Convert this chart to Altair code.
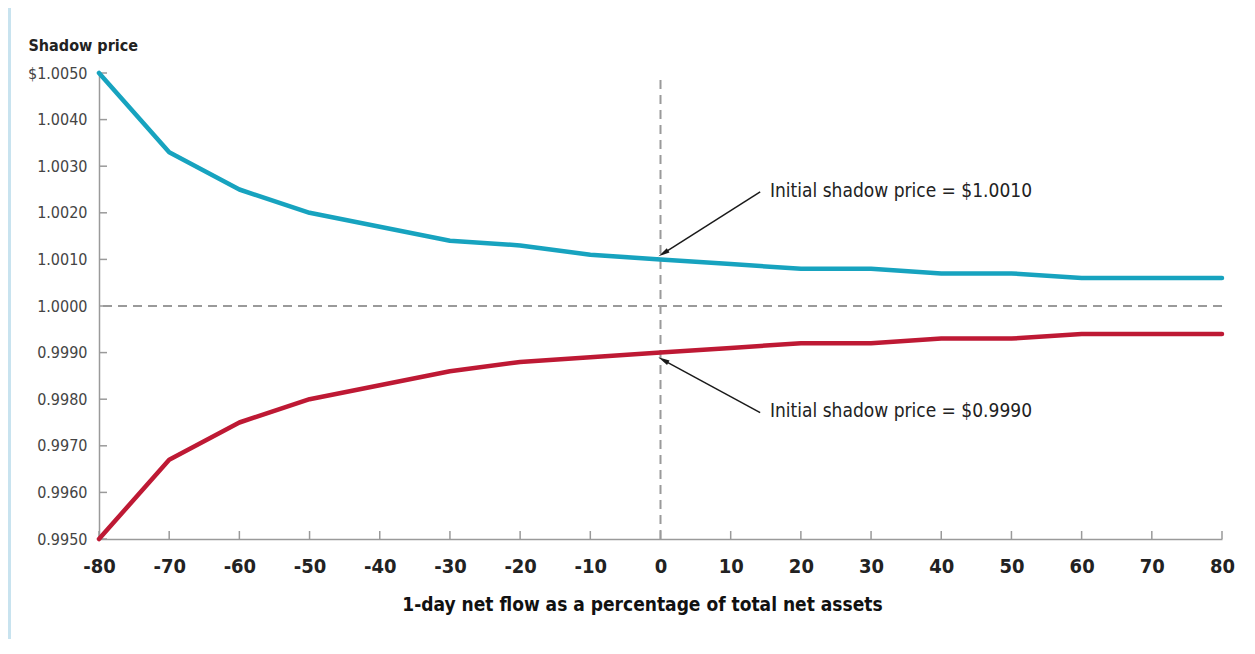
import altair as alt
import pandas as pd

flows = [-80, -70, -60, -50, -40, -30, -20, -10, 0, 10, 20, 30, 40, 50, 60, 70, 80]
upper = [1.0050, 1.0033, 1.0025, 1.0020, 1.0017, 1.0014, 1.0013, 1.0011, 1.0010,
         1.0009, 1.0008, 1.0008, 1.0007, 1.0007, 1.0006, 1.0006, 1.0006]
lower = [0.9950, 0.9967, 0.9975, 0.9980, 0.9983, 0.9986, 0.9988, 0.9989, 0.9990,
         0.9991, 0.9992, 0.9992, 0.9993, 0.9993, 0.9994, 0.9994, 0.9994]
y_ticks = [0.9950, 0.9960, 0.9970, 0.9980, 0.9990, 1.0000, 1.0010, 1.0020, 1.0030, 1.0040, 1.0050]

ann_text = ["Initial shadow price = $1.0010", "Initial shadow price = $0.9990"]
ann_tx = [15.6, 15.6]
ann_ty = [1.00247, 0.99775]
arrow_x0 = [14.2, 14.2]
arrow_y0 = [1.00245, 0.99771]
arrow_x1 = [0.4, 0.4]
arrow_y1 = [1.00113, 0.99884]
arrow_angle = [238, 299]

FONT = "DejaVu Sans Condensed, Roboto, sans-serif"
BLUE = "#17a3bf"
RED = "#be1934"
GRAY = "#9a9a9a"

W, H = 1123, 466

df = pd.DataFrame({
    "flow": flows * 2,
    "price": upper + lower,
    "series": ["upper"] * len(flows) + ["lower"] * len(flows),
})
ticks_df = pd.DataFrame({"v": y_ticks})
xt_df = pd.DataFrame({"f": flows})
ann_df = pd.DataFrame({"text": ann_text, "x": ann_tx, "y": ann_ty})
arr_df = pd.DataFrame({"x0": arrow_x0, "y0": arrow_y0, "x1": arrow_x1, "y1": arrow_y1,
                       "angle": arrow_angle})

xscale = alt.Scale(domain=[-80, 80], nice=False, zero=False)
yscale = alt.Scale(domain=[0.995, 1.005], nice=False, zero=False)

xaxis = alt.Axis(values=flows, ticks=False, grid=False, domainColor=GRAY, domainWidth=1.5,
                 labelFont=FONT, labelFontSize=20, labelFontWeight="bold", labelColor="#222222",
                 labelPadding=17, labelFlush=False, labelExpr="'' + datum.value",
                 title="1-day net flow as a percentage of total net assets",
                 titleFont=FONT, titleFontSize=19, titleFontWeight="bold", titleColor="#111111",
                 titlePadding=19, titleX=543)
yaxis = alt.Axis(values=y_ticks, ticks=False, grid=False, domainColor=GRAY, domainWidth=1.5,
                 labelFont=FONT, labelFontSize=16, labelColor="#444444", labelPadding=12,
                 labelFlush=False,
                 labelExpr="datum.value > 1.0049 ? '$' + format(datum.value, '.4f') : format(datum.value, '.4f')",
                 title="Shadow price", titleFont=FONT, titleFontSize=16, titleFontWeight="bold",
                 titleColor="#222222", titleAngle=0, titleAlign="left", titleBaseline="alphabetic",
                 titleX=-71, titleY=-23)

base = alt.Chart(df)

frame = alt.Chart(pd.DataFrame({"a": [0]})).mark_rect(color="#c8e3ef", clip=False).encode(
    x=alt.value(-91), x2=alt.value(-88), y=alt.value(-65), y2=alt.value(H + 200))

hline = alt.Chart(pd.DataFrame({"y": [1.0]})).mark_rule(color=GRAY, strokeWidth=2, strokeDash=[9, 6]).encode(
    y=alt.Y("y:Q", scale=yscale, axis=yaxis))
vline = alt.Chart(pd.DataFrame({"x": [0], "y": [1.00485], "y2": [0.995]})).mark_rule(
    color=GRAY, strokeWidth=2, strokeDash=[9, 6]).encode(
    x=alt.X("x:Q", scale=xscale, axis=xaxis), y=alt.Y("y:Q", scale=yscale), y2="y2:Q")

yticks = alt.Chart(ticks_df).mark_rule(color=GRAY, strokeWidth=1.5).encode(
    y=alt.Y("v:Q", scale=yscale), x=alt.value(0), x2=alt.value(8))
xticks = alt.Chart(xt_df).mark_rule(color=GRAY, strokeWidth=1.5).encode(
    x=alt.X("f:Q", scale=xscale), y=alt.value(H), y2=alt.value(H - 8))

lines = base.mark_line(strokeWidth=4.5, strokeCap="round", strokeJoin="round", clip=False).encode(
    x=alt.X("flow:Q", scale=xscale, axis=xaxis),
    y=alt.Y("price:Q", scale=yscale, axis=yaxis),
    color=alt.Color("series:N", scale=alt.Scale(domain=["upper", "lower"], range=[BLUE, RED]), legend=None),
    detail="series:N",
)

arrows = alt.Chart(arr_df).mark_rule(color="#1a1a1a", strokeWidth=1.5).encode(
    x=alt.X("x0:Q", scale=xscale), y=alt.Y("y0:Q", scale=yscale), x2="x1:Q", y2="y1:Q")
heads = alt.Chart(arr_df).mark_point(
    shape="M0,-1L0.45,1L-0.45,1Z", filled=True, color="#1a1a1a", size=130, opacity=1).encode(
    x=alt.X("x1:Q", scale=xscale), y=alt.Y("y1:Q", scale=yscale), angle=alt.Angle("angle:Q", scale=None))

texts = alt.Chart(ann_df).mark_text(align="left", baseline="middle", font=FONT, fontSize=19,
                                     color="#222222").encode(
    x=alt.X("x:Q", scale=xscale), y=alt.Y("y:Q", scale=yscale), text="text:N")

chart = alt.layer(frame, hline, vline, yticks, xticks, lines, arrows, heads, texts).properties(
    width=W, height=H,
    autosize=alt.AutoSizeParams(type="none"),
    padding={"left": 91, "top": 65, "right": 25, "bottom": 100},
    background="white",
).configure_view(stroke=None)

chart.save("out.html", embed_options={"renderer": "svg", "actions": False})
